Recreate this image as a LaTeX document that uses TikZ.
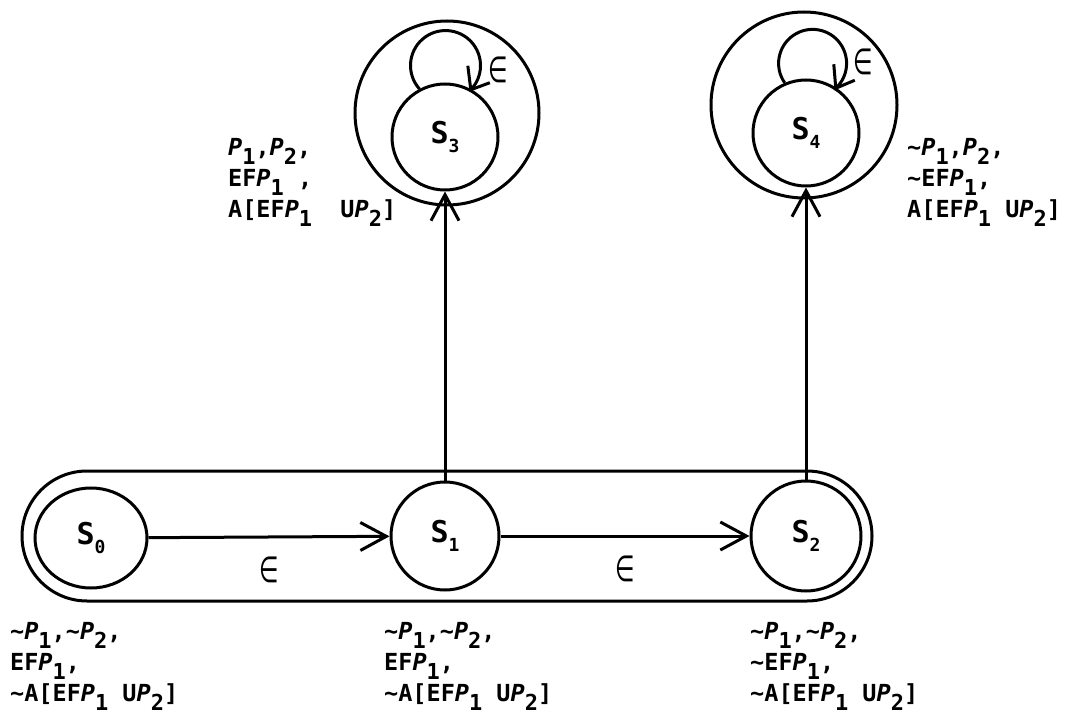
\documentclass[tikz,border=0pt]{standalone}
\usepackage{fontspec}
\setmonofont{DejaVu Sans Mono}
\newfontfamily\symf{DejaVu Sans}
\usetikzlibrary{arrows.meta,shapes.geometric}
\newcommand\tld{\textasciitilde}
\newcommand\sbs[1]{\raisebox{-9pt}{\fontsize{22}{22}\selectfont #1}}
\newcommand\PP{\textit{P}}
\newcommand\lbfont{\ttfamily\bfseries\fontsize{23.5}{31}\selectfont}
\newcommand\stname[1]{S\raisebox{-9pt}{\fontsize{18}{18}\selectfont #1}}
\newcommand\eps{\scalebox{0.62}[1]{∈}}
\tikzset{
  st/.style={circle, draw, line width=3pt, minimum size=108pt, inner sep=0pt,
    font=\ttfamily\bfseries\fontsize{30}{30}\selectfont},
  ring/.style={circle, draw, line width=3pt, inner sep=0pt},
  arr/.style={line width=3pt, -{Straight Barb[length=26pt,width=28pt]}},
  loopline/.style={line width=3pt},
  barb/.style={line width=3pt, line join=miter},
  lbl/.style={anchor=north west, inner sep=0pt, align=left, font=\lbfont},
  epsn/.style={inner sep=0pt, font=\symf\fontsize{36}{36}\selectfont},
}
\begin{document}
\begin{tikzpicture}[x=1pt,y=1pt]
\useasboundingbox (0,0) rectangle (1069,-719);
% container
\node[draw, line width=3pt, rounded corners=65pt, minimum width=850pt, minimum height=130pt, inner sep=0pt] (cap) at (447,-536) {};
\node[ring, minimum size=184pt] (o3) at (447,-113) {};
\node[ring, minimum size=186pt] (o4) at (804,-105) {};
% states
\node[st, ellipse, minimum width=112pt, minimum height=100pt] (s0) at (91,-538) {\stname{0}};
\node[st] (s1) at (445,-536) {\stname{1}};
\node[st, minimum size=110pt] (s2) at (806,-536) {\stname{2}};
\node[st, minimum size=106pt] (s3) at (445,-137) {\stname{3}};
\node[st, minimum size=106pt] (s4) at (806,-133) {\stname{4}};
% transitions
\draw[arr] (s0) -- node[epsn, midway, yshift=-33pt] (e01) {\eps} (s1);
\draw[arr] (s1) -- node[epsn, midway, yshift=-33pt] (e12) {\eps} (s2);
\draw[arr] (s1) -- (s3);
\draw[arr] (s2) -- (s4);
% self loops
\draw[loopline] (s3.118) arc[start angle=221.8, end angle=-43.7, radius=35] coordinate (t3);
\draw[barb] (t3) ++(-3,24) -- (t3) -- ++(19,7);
\draw[loopline] (s4.113) arc[start angle=214.9, end angle=-47, radius=34] coordinate (t4);
\draw[barb] (t4) ++(-2,24) -- (t4) -- ++(19,8);
\node[epsn] (e33) at (498,-70) {\eps};
\node[epsn] (e44) at (863,-62) {\eps};
% labels
\node[lbl] (l0) at (10,-622) {\tld\PP\sbs{1},\tld\PP\sbs{2},\\EF\PP\sbs{1},\\\tld A[EF\PP\sbs{1} U\PP\sbs{2}]};
\node[lbl] (l1) at (384,-622) {\tld\PP\sbs{1},\tld\PP\sbs{2},\\EF\PP\sbs{1},\\\tld A[EF\PP\sbs{1} U\PP\sbs{2}]};
\node[lbl] (l2) at (750,-622) {\tld\PP\sbs{1},\tld\PP\sbs{2},\\\tld EF\PP\sbs{1},\\\tld A[EF\PP\sbs{1} U\PP\sbs{2}]};
\node[lbl] (l3) at (228,-138) {\PP\sbs{1},\PP\sbs{2},\\EF\PP\sbs{1}\ ,\\A[EF\PP\sbs{1}\ \ U\PP\sbs{2}]};
\node[lbl] (l4) at (907,-138) {\tld\PP\sbs{1},\PP\sbs{2},\\\tld EF\PP\sbs{1},\\A[EF\PP\sbs{1} U\PP\sbs{2}]};
\end{tikzpicture}
\end{document}
